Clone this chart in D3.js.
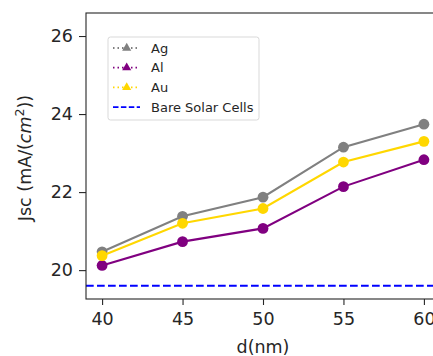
<!DOCTYPE html>
<html><head><meta charset="utf-8">
<script src="https://cdn.jsdelivr.net/npm/d3@7"></script>
<style>body{margin:0;background:#fff}svg{display:block;font-family:"DejaVu Sans",sans-serif}</style>
</head><body><svg id="c" width="433" height="356"></svg>
<script>
const dValues = [40, 45, 50, 55, 60];
const agValues = [20.47, 21.38, 21.87, 23.15, 23.74];
const alValues = [20.12, 20.73, 21.07, 22.14, 22.83];
const auValues = [20.37, 21.20, 21.58, 22.77, 23.30];
const bareValue = 19.6;
const yTicks = [20, 22, 24, 26];
const xTicks = [40, 45, 50, 55, 60];
const seriesNames = ["Ag", "Al", "Au"];
const seriesColors = ["#808080", "#800080", "#FFD700"];

const svg = d3.select("#c");
const L = 86, T = 13, R = 440, B = 299;
const x = d3.scaleLinear().domain([39, 61]).range([L, R]);
const y = d3.scaleLinear().domain([19.26, 26.59]).range([B, T]);
const FS = 17.5;

// bare line
svg.append("line").attr("x1", L).attr("x2", R).attr("y1", y(bareValue)).attr("y2", y(bareValue))
  .attr("stroke", "#0000ff").attr("stroke-width", 2).attr("stroke-dasharray", "7.7,3.3");

const data = [agValues, alValues, auValues];
const line = d3.line().x((d, i) => x(dValues[i])).y(d => y(d));
data.forEach((vals, k) => {
  const g = svg.append("g");
  g.append("path").attr("d", line(vals)).attr("fill", "none").attr("stroke", seriesColors[k]).attr("stroke-width", 2.1);
  g.selectAll("circle").data(vals).join("circle")
    .attr("cx", (d, i) => x(dValues[i])).attr("cy", d => y(d)).attr("r", 5.4).attr("fill", seriesColors[k]);
});

// axes
const xAxis = d3.axisBottom(x).tickValues(xTicks).tickSize(6).tickPadding(8);
const yAxis = d3.axisLeft(y).tickValues(yTicks).tickSize(7).tickPadding(6);
const gx = svg.append("g").attr("transform", `translate(0,${B})`).call(xAxis);
const gy = svg.append("g").attr("transform", `translate(${L},0)`).call(yAxis);
[gx, gy].forEach(g => {
  g.select(".domain").remove();
  g.selectAll("text").attr("font-size", FS).attr("fill", "#262626").attr("font-family", "DejaVu Sans");
  g.selectAll("line").attr("stroke", "#262626").attr("stroke-width", 1.1);
});
// spines
svg.append("rect").attr("x", L).attr("y", T).attr("width", R - L).attr("height", B - T)
  .attr("fill", "none").attr("stroke", "#262626").attr("stroke-width", 1.1);

// labels
svg.append("text").attr("x", (L + R) / 2).attr("y", 352.5).attr("text-anchor", "middle")
  .attr("font-size", FS).attr("fill", "#262626").text("d(nm)");
const yl = svg.append("text").attr("transform", `translate(31,158) rotate(-90)`).attr("text-anchor", "middle")
  .attr("font-size", FS).attr("fill", "#262626");
yl.append("tspan").text("Jsc (mA/(");
yl.append("tspan").attr("font-style", "italic").text("cm");
yl.append("tspan").attr("font-size", 12.5).attr("dy", -7).text("2");
yl.append("tspan").attr("dy", 7).text("))");

// legend
const lg = svg.append("g").attr("transform", "translate(108,37)");
lg.append("rect").attr("width", 151).attr("height", 83).attr("rx", 2.5).attr("fill", "#fff").attr("fill-opacity", 0.8)
  .attr("stroke", "#d9d9d9").attr("stroke-width", 1);
seriesNames.forEach((n, k) => {
  const yy = 11 + k * 19.7;
  lg.append("line").attr("x1", 5).attr("x2", 32).attr("y1", yy).attr("y2", yy)
    .attr("stroke", seriesColors[k]).attr("stroke-width", 1.8).attr("stroke-dasharray", "1.5,3");
  lg.append("path").attr("d", d3.symbol(d3.symbolTriangle, 36)()).attr("transform", `translate(18.7,${yy})`).attr("fill", seriesColors[k]);
  lg.append("text").attr("x", 43).attr("y", yy + 4.7).attr("font-size", 13).attr("fill", "#262626").text(n);
});
{
  const yy = 11 + 3 * 19.7;
  lg.append("line").attr("x1", 5).attr("x2", 32).attr("y1", yy).attr("y2", yy)
    .attr("stroke", "#0000ff").attr("stroke-width", 1.8).attr("stroke-dasharray", "5.5,2.4");
  lg.append("text").attr("x", 43).attr("y", yy + 4.7).attr("font-size", 13).attr("fill", "#262626").text("Bare Solar Cells");
}
</script></body></html>
